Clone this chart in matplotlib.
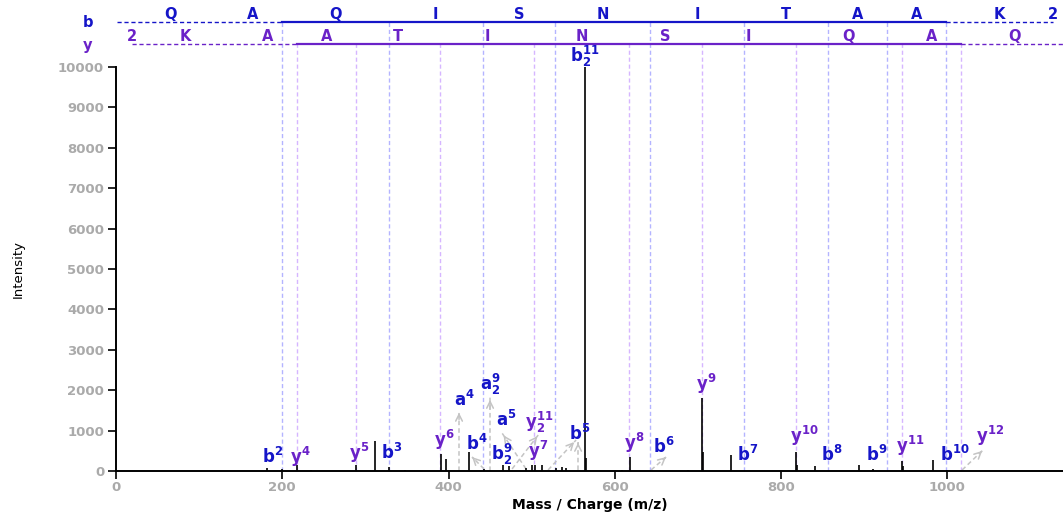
import matplotlib
matplotlib.use('Agg')
import matplotlib.pyplot as plt
import numpy as np

plt.rcParams['font.family'] = ['DejaVu Sans']
plt.rcParams['mathtext.fontset'] = 'dejavusans'
plt.rcParams['mathtext.default'] = 'bf'

# peptide QAQISNITAAK, charge 2+
b_seq = list("QAQISNITAAK")
y_seq = list("KAATINSIQAQ")
b_mz = [1.007, 129.066, 200.103, 328.162, 441.246, 528.278, 642.321,
        755.405, 856.452, 927.489, 998.527, 1126.622]
y_mz = [19.018, 147.113, 218.150, 289.187, 390.235, 503.319, 617.362,
        704.394, 817.478, 945.537, 1016.574, 1144.632]
b_seen = [2, 10]   # first / last matched b ion
y_seen = [2, 10]

# spectrum peaks
peak_mz = [181.6, 199.7, 217.7, 234.6, 288.7, 311.6, 328.4, 347.6, 390.9, 396.6,
           424.6, 442.7, 465.2, 472.8, 493.2, 500.4, 503.4, 512.5, 529.3, 536.5,
           541.3, 563.8, 564.8, 608.7, 618.3, 687.7, 704.4, 705.6, 739.4, 817.5,
           818.6, 840.3, 893.4, 910.6, 945.5, 946.7, 982.4, 999.5]
peak_int = [80, 60, 150, 30, 160, 750, 110, 25, 420, 305,
            460, 50, 140, 125, 65, 140, 140, 155, 80, 90,
            65, 10000, 310, 35, 350, 30, 1800, 470, 390, 480,
            150, 130, 145, 40, 250, 125, 270, 30]

# fragment labels: text, x, y, kind
labels = [
    (r'$b^{2}$', 188, 347, 'b'), (r'$y^{4}$', 222, 347, 'y'),
    (r'$y^{5}$', 293, 446, 'y'), (r'$b^{3}$', 332, 446, 'b'),
    (r'$y^{6}$', 395, 767, 'y'), (r'$a^{4}$', 419, 1757, 'b'),
    (r'$b^{4}$', 434, 668, 'b'), (r'$a_{2}^{9}$', 450, 2153, 'b'),
    (r'$a^{5}$', 469, 1262, 'b'), (r'$b_{2}^{9}$', 464, 421, 'b'),
    (r'$y_{2}^{11}$', 509, 1213, 'y'), (r'$y^{7}$', 508, 495, 'y'),
    (r'$b^{5}$', 558, 916, 'b'), (r'$y^{8}$', 623, 693, 'y'),
    (r'$b^{6}$', 659, 594, 'b'), (r'$y^{9}$', 710, 2153, 'y'),
    (r'$b^{7}$', 760, 396, 'b'), (r'$y^{10}$', 828, 866, 'y'),
    (r'$b^{8}$', 861, 396, 'b'), (r'$b^{9}$', 915, 396, 'b'),
    (r'$y^{11}$', 955, 619, 'y'), (r'$b^{10}$', 1009, 396, 'b'),
    (r'$y^{12}$', 1051, 866, 'y'), (r'$b_{2}^{11}$', 564, 10250, 'b'),
]
# repel arrows: start (x, y) -> end (x, y)
arrows = [
    ((412.6, 0), (412.6, 1510)), ((449.9, 0), (449.9, 1830)),
    ((493.2, 50), (464.3, 940)), ((476.4, 50), (508.8, 915)),
    ((442.7, 50), (428.3, 345)), ((519.7, 25), (553.4, 767)),
    ((555.8, 25), (555.8, 767)), ((643.6, 25), (661.6, 345)),
    ((1017.7, 25), (1044.2, 545)),
]

b_col = '#1515c8'
y_col = '#6a22c8'
b_vcol = '#b4b4ff'
y_vcol = '#d6b6ff'

fig = plt.figure(figsize=(10.63, 5.21), dpi=100)
ax = fig.add_axes([0.1091, 0.0960, 0.8909, 0.7754])
ax.set_xlim(0, 1139)
ax.set_ylim(0, 10000)

trans = ax.get_xaxis_transform()
b_row, y_row = 1.111, 1.057

# vertical dashed lines for matched ions
for i in range(b_seen[0], b_seen[1] + 1):
    ax.plot([b_mz[i], b_mz[i]], [0, b_row], transform=trans, color=b_vcol,
            lw=1.0, ls=(0, (3, 2)), clip_on=False, zorder=1)
for i in range(y_seen[0], y_seen[1] + 1):
    ax.plot([y_mz[i], y_mz[i]], [0, y_row], transform=trans, color=y_vcol,
            lw=1.0, ls=(0, (3, 2)), clip_on=False, zorder=1)

# sequence rows
def seq_row(mz, seen, row, col, letters, charge_x):
    ax.plot([mz[0], mz[seen[0]]], [row, row], transform=trans, color=col,
            lw=1.0, ls=(0, (3, 2)), clip_on=False)
    ax.plot([mz[seen[0]], mz[seen[1]]], [row, row], transform=trans, color=col,
            lw=1.6, clip_on=False)
    ax.plot([mz[seen[1]], mz[-1]], [row, row], transform=trans, color=col,
            lw=1.0, ls=(0, (3, 2)), clip_on=False)
    for k, aa in enumerate(letters):
        ax.text((mz[k] + mz[k + 1]) / 2, row + 0.018, aa, transform=trans,
                ha='center', va='center', color=col, fontsize=10.5,
                fontweight='bold', clip_on=False)
    ax.text(charge_x, row + 0.018, '2', transform=trans, ha='center',
            va='center', color=col, fontsize=10.5, fontweight='bold')

seq_row(b_mz, b_seen, b_row, b_col, b_seq, b_mz[-1])
seq_row(y_mz, y_seen, y_row, y_col, y_seq, y_mz[0])
ax.text(-34, b_row, 'b', transform=trans, ha='center', va='center',
        color=b_col, fontsize=10.5, fontweight='bold')
ax.text(-34, y_row - 0.004, 'y', transform=trans, ha='center', va='center',
        color=y_col, fontsize=10.5, fontweight='bold')

# arrows
for (x0, y0), (x1, y1) in arrows:
    ax.plot([x0, x1], [y0, y1], color='#c4c4c4', lw=1.1, ls=(0, (3, 2)), zorder=2)
    ax.annotate('', xy=(x1, y1), xytext=(x0 + (x1 - x0) * 0.8, y0 + (y1 - y0) * 0.8),
                arrowprops=dict(arrowstyle='->', color='#c4c4c4', lw=1.1,
                                mutation_scale=12), zorder=2)

# peaks
ax.vlines(peak_mz, 0, peak_int, color='black', lw=1.2, zorder=3)

for txt, x, y, kind in labels:
    ax.text(x, y, txt, ha='center', va='center', fontsize=12,
            color=b_col if kind == 'b' else y_col, clip_on=False, zorder=4)

# axes styling
for s in ['top', 'right']:
    ax.spines[s].set_visible(False)
ax.spines['left'].set_linewidth(1.4)
ax.spines['bottom'].set_linewidth(1.4)
ax.set_xticks([0, 200, 400, 600, 800, 1000])
ax.set_yticks(np.arange(0, 10001, 1000))
ax.tick_params(axis='both', length=6, width=1.2, colors='black',
               labelcolor='#aaaaaa', labelsize=9.5)
ax.tick_params(axis='x', pad=1.5)
ax.tick_params(axis='y', pad=2.5)
for lab in ax.get_xticklabels() + ax.get_yticklabels():
    lab.set_fontweight('bold')

ax.text(0.5, -0.083, 'Mass / Charge (m/z)', transform=ax.transAxes,
        ha='center', va='center', fontsize=10, fontweight='bold')
ax.text(-0.1035, 0.5, 'Intensity', transform=ax.transAxes, rotation=90,
        ha='center', va='center', fontsize=9.5)

fig.savefig('out.png', dpi=100)
